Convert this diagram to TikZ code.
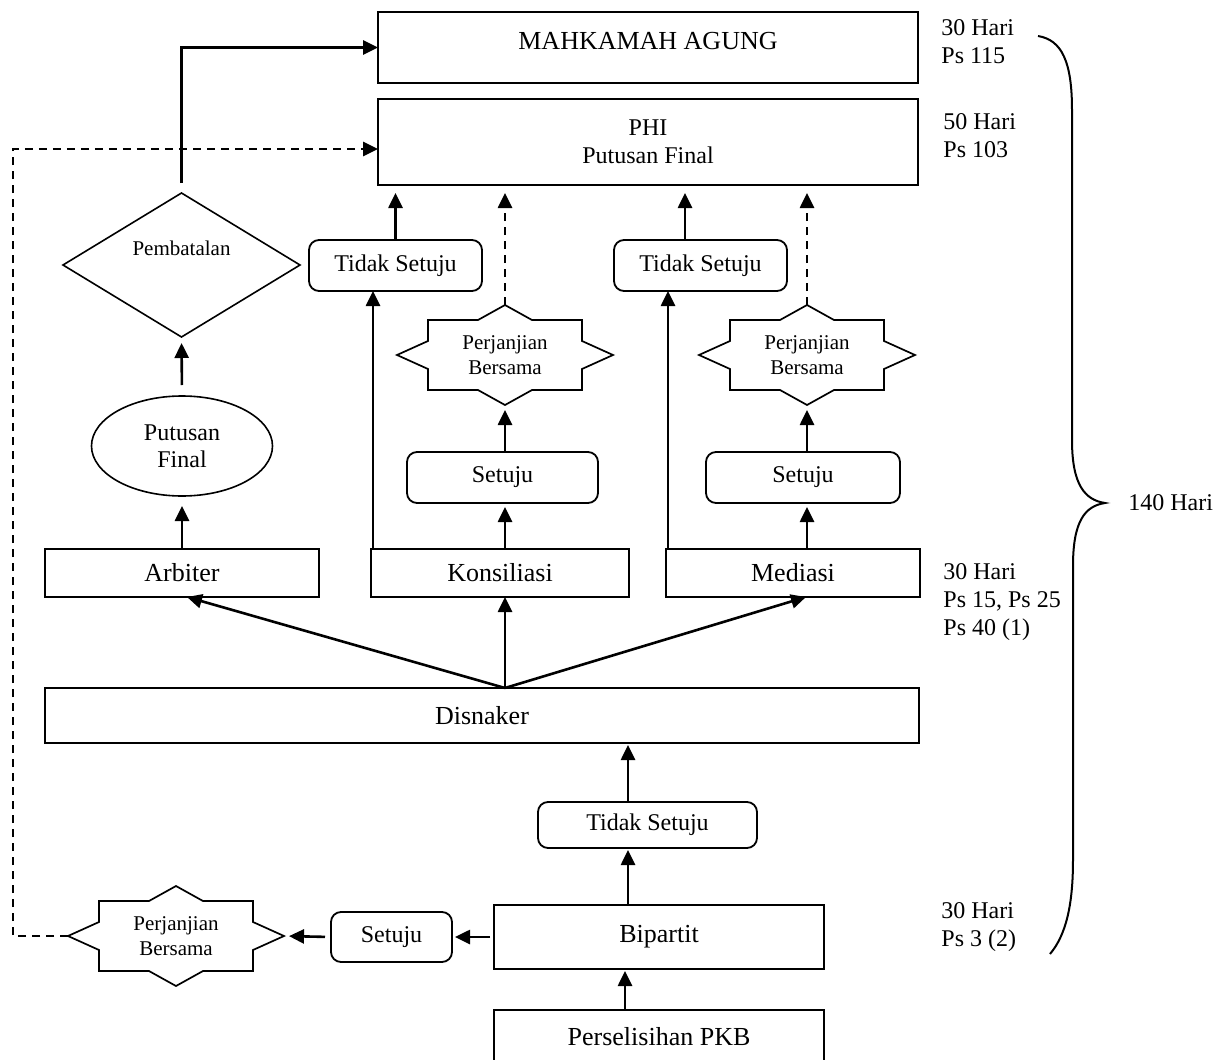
\documentclass[tikz,border=0pt]{standalone}
\usepackage{fontspec}
\setmainfont{Liberation Serif}
\usetikzlibrary{arrows.meta,shapes.geometric}
\tikzset{
  box/.style={draw, line width=1.1pt, inner sep=0pt, outer sep=0pt, font=\fontsize{13}{15}\selectfont},
  rbox/.style={draw, line width=0.9pt, rounded corners=5pt, inner sep=0pt, outer sep=0pt, font=\fontsize{12}{14}\selectfont},
  ellnode/.style={draw, ellipse, line width=0.8pt, inner sep=0pt, outer sep=0pt, align=center, font=\fontsize{12}{13.5}\selectfont},
  dianode/.style={draw, diamond, aspect=1.6, line width=0.8pt, inner sep=0pt, outer sep=0pt, font=\fontsize{10.5}{12}\selectfont},
  startext/.style={inner sep=0pt, outer sep=0pt, minimum width=108pt, minimum height=50pt, align=center, font=\fontsize{10.5}{12.5}\selectfont},
  starln/.style={line width=0.85pt, line join=miter},
  arr/.style={line width=1.3pt, -{Triangle[length=7.5pt,width=7pt]}},
  darr/.style={arr, dash pattern=on 4pt off 3pt},
  sidelbl/.style={anchor=west, align=left, inner sep=0pt, font=\fontsize{12}{14}\selectfont},
  bracestyle/.style={line width=1pt}
}
\newcommand\drawstarline[1]{\draw[starln] ([shift={(-108,0)}]#1.center) -- ([shift={(-77,-14)}]#1.center) -- ([shift={(-77,-35)}]#1.center) -- ([shift={(-27,-35)}]#1.center) -- ([shift={(0,-50)}]#1.center) -- ([shift={(27,-35)}]#1.center) -- ([shift={(77,-35)}]#1.center) -- ([shift={(77,-14)}]#1.center) -- ([shift={(108,0)}]#1.center) -- ([shift={(77,14)}]#1.center) -- ([shift={(77,35)}]#1.center) -- ([shift={(27,35)}]#1.center) -- ([shift={(0,50)}]#1.center) -- ([shift={(-27,35)}]#1.center) -- ([shift={(-77,35)}]#1.center) -- ([shift={(-77,14)}]#1.center) -- cycle;}
\begin{document}
\begin{tikzpicture}[x=0.5pt,y=-0.5pt]
\useasboundingbox (0,0) rectangle (1228,1060);

% top boxes
\node[box, minimum width=270pt, minimum height=35.5pt] (ma) at (648,47.5) {\raisebox{7pt}{MAHKAMAH AGUNG}};
\node[box, minimum width=270pt, minimum height=43pt, align=center, font=\fontsize{12}{14}\selectfont] (phi) at (648,142) {PHI\\Putusan Final};

% arbiter branch
\node[dianode, minimum width=118.5pt, minimum height=72pt] (pb) at (181.5,265) {\raisebox{17pt}{Pembatalan}};
\node[ellnode, minimum width=90.5pt, minimum height=50pt] (pf) at (182,446) {Putusan\\Final};
\node[box, minimum width=137pt, minimum height=24pt] (arb) at (182,573) {Arbiter};

% konsiliasi branch
\node[box, minimum width=129pt, minimum height=24pt] (kon) at (500,573) {Konsiliasi};
\node[rbox, minimum width=86.5pt, minimum height=25.5pt] (ts1) at (395.5,265.5) {Tidak Setuju};
\node[rbox, minimum width=95.5pt, minimum height=25.5pt] (se1) at (502.5,477.5) {Setuju};
\node[startext] (s1) at (505,355) {Perjanjian\\Bersama};
\drawstarline{s1}

% mediasi branch
\node[box, minimum width=127pt, minimum height=24pt] (med) at (793,573) {Mediasi};
\node[rbox, minimum width=86.5pt, minimum height=25.5pt] (ts2) at (700.5,265.5) {Tidak Setuju};
\node[rbox, minimum width=97pt, minimum height=25.5pt] (se2) at (803,477.5) {Setuju};
\node[startext] (s2) at (807,355) {Perjanjian\\Bersama};
\drawstarline{s2}

% lower part
\node[box, minimum width=437pt, minimum height=27.5pt] (dis) at (482,715.5) {Disnaker};
\node[rbox, minimum width=109.5pt, minimum height=23pt] (ts3) at (647.5,825) {Tidak Setuju};
\node[box, minimum width=165pt, minimum height=32pt] (bip) at (659,937) {Bipartit};
\node[box, minimum width=165pt, minimum height=27pt] (pkb) at (659,1037) {Perselisihan PKB};
\node[rbox, minimum width=60.5pt, minimum height=25pt] (se3) at (391.5,937) {Setuju};
\node[startext] (s3) at (176,936) {Perjanjian\\Bersama};
\drawstarline{s3}

% side labels
\node[sidelbl] (l1) at (941,41.5) {30 Hari\\Ps 115};
\node[sidelbl] (l2) at (943,136) {50 Hari\\Ps 103};
\node[sidelbl] (l3) at (943,602) {30 Hari\\Ps 15, Ps 25\\Ps 40 (1)};
\node[sidelbl] (l4) at (941,927) {30 Hari\\Ps 3 (2)};
\node[sidelbl] (l5) at (1128,503) {140 Hari};

% brace
\draw[bracestyle] (1038,36) .. controls (1062,40) and (1072,62) .. (1072,110) -- (1072,440) .. controls (1072,485) and (1085,500) .. (1105,503) .. controls (1085,506) and (1073,521) .. (1073,566) -- (1073,860) .. controls (1073,905) and (1066,935) .. (1050,954);

% arbiter connectors
\draw[arr, shorten >=5pt] (arb.north) -- (pf.south);
\draw[arr, shorten <=5.5pt, shorten >=3pt] (pf.north) -- (pb.south);
\draw[arr, shorten <=5pt] (pb.north) |- (ma.west);
\draw[darr] (s3.west) -- ++(-55,0) |- ([yshift=-3.5pt]phi.west);

% konsiliasi connectors
\coordinate (k1) at ([xshift=1pt]kon.north west);
\draw[arr] (k1) -- (k1 |- ts1.south);
\draw[arr, shorten >=4pt] (ts1.north) -- (ts1.north |- phi.south);
\draw[arr, shorten >=2pt] (s1.center |- kon.north) -- (s1.center |- se1.south);
\draw[arr, shorten >=2.5pt] (s1.center |- se1.north) -- (s1.south);
\draw[darr, shorten >=4pt] (s1.north) -- (s1.north |- phi.south);

% mediasi connectors
\coordinate (k2) at ([xshift=1pt]med.north west);
\draw[arr] (k2) -- (k2 |- ts2.south);
\coordinate (k3) at ([xshift=-7.75pt]ts2.north);
\draw[arr, shorten >=4pt] (k3) -- (k3 |- phi.south);
\draw[arr, shorten >=2pt] (s2.center |- med.north) -- (s2.center |- se2.south);
\draw[arr, shorten >=2.5pt] (s2.center |- se2.north) -- (s2.south);
\draw[darr, shorten >=4pt] (s2.north) -- (s2.north |- phi.south);

% disnaker connectors
\coordinate (hub) at (s1.center |- dis.north);
\draw[arr] (hub) -- ([xshift=2.5pt]arb.south);
\draw[arr] (hub) -- (hub |- kon.south);
\draw[arr] (hub) -- ([xshift=6.5pt]med.south);

% lower connectors
\coordinate (k4) at ([xshift=-9.75pt]ts3.north);
\draw[arr, shorten >=1pt] (k4) -- (k4 |- dis.south);
\draw[arr, shorten >=1pt] (k4 |- bip.north) -- (k4 |- ts3.south);
\coordinate (k5) at ([xshift=-1.5pt]k4 |- pkb.north);
\draw[arr, shorten >=1pt] (k5) -- (k5 |- bip.south);
\draw[arr, shorten <=2pt, shorten >=1.5pt] (bip.west) -- (se3.east);
\draw[arr, shorten <=3pt, shorten >=2.5pt] (se3.west) -- (s3.east);
\end{tikzpicture}
\end{document}
